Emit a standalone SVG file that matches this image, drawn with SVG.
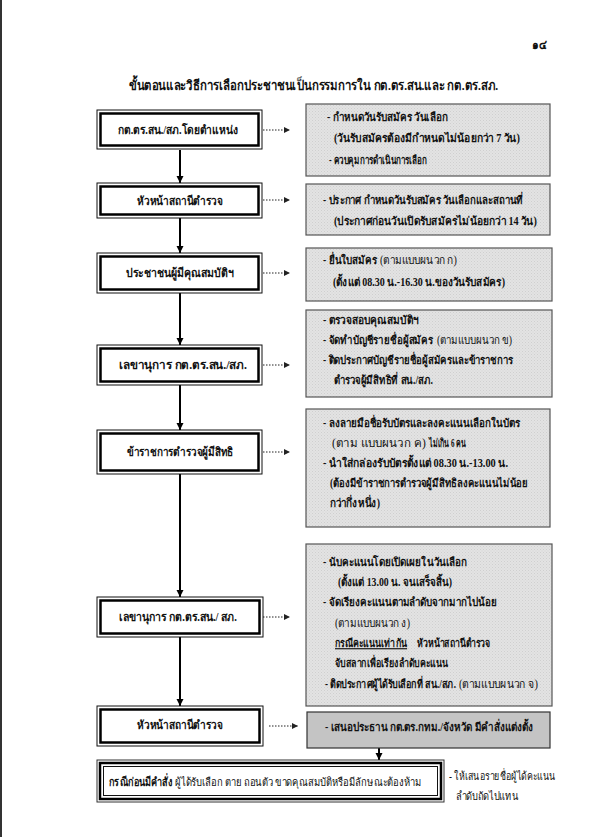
<svg xmlns="http://www.w3.org/2000/svg" width="596" height="837" viewBox="0 0 596 837">
<defs>
<pattern id="hatch" width="3" height="3" patternUnits="userSpaceOnUse">
<rect width="3" height="3" fill="#e3e3e3"/>
<rect x="0" y="0" width="1" height="1" fill="#cfcfcf"/>
<rect x="1.5" y="1.5" width="1" height="1" fill="#d4d4d4"/>
</pattern>
<marker id="ah" markerWidth="8" markerHeight="8" refX="7" refY="4" orient="auto" markerUnits="userSpaceOnUse">
<path d="M0,0.5 L7,4 L0,7.5 Z" fill="#000"/>
</marker>
<marker id="ahs" markerWidth="7" markerHeight="7" refX="6" refY="3.5" orient="auto" markerUnits="userSpaceOnUse">
<path d="M0,0.5 L6,3.5 L0,6.5 Z" fill="#222"/>
</marker>
</defs>
<style>
text{font-family:"Liberation Serif","DejaVu Sans",serif;fill:#111;}
.t{font-size:13.5px;font-weight:bold;}
.n{font-size:12px;font-weight:bold;text-anchor:middle;}
.r{font-size:11.5px;font-weight:bold;}
.p{font-weight:normal;}
.outer{fill:#fff;stroke:#111;stroke-width:1;}
.inner{fill:#fff;stroke:#000;stroke-width:2.5;}
.grey{fill:url(#hatch);stroke:#555;stroke-width:1.2;}
.dark{fill:#c4c4c4;stroke:#333;stroke-width:1.2;}
.conn{stroke:#000;stroke-width:2;fill:none;marker-end:url(#ah);}
.dot{stroke:#222;stroke-width:1;stroke-dasharray:1.5,1.5;fill:none;marker-end:url(#ahs);}
</style>
<rect x="0" y="0" width="596" height="837" fill="#fff"/>
<rect x="0" y="0" width="2" height="837" fill="#333"/>
<text x="532" y="49" class="t" style="font-size:12px" textLength="15" lengthAdjust="spacingAndGlyphs">๑๔</text>
<text x="129" y="90" class="t" textLength="369" lengthAdjust="spacingAndGlyphs">ขั้นตอนและวิธีการเลือกประชาชนเป็นกรรมการใน กต.ตร.สน.และ กต.ตร.สภ.</text>

<g id="connectors">
<line class="conn" x1="180" y1="150" x2="180" y2="183"/>
<line class="conn" x1="180" y1="218" x2="180" y2="253"/>
<line class="conn" x1="180" y1="293" x2="180" y2="345"/>
<line class="conn" x1="180" y1="385" x2="180" y2="430"/>
<line class="conn" x1="180" y1="474" x2="180" y2="597"/>
<line class="conn" x1="180" y1="637" x2="180" y2="706"/>
<line class="conn" x1="379" y1="748" x2="379" y2="760"/>
<line class="dot" x1="263" y1="130" x2="290" y2="130"/>
<line class="dot" x1="263" y1="200" x2="290" y2="200"/>
<line class="dot" x1="263" y1="273" x2="290" y2="273"/>
<line class="dot" x1="263" y1="365" x2="290" y2="365"/>
<line class="dot" x1="263" y1="452" x2="290" y2="452"/>
<line class="dot" x1="263" y1="617" x2="290" y2="617"/>
<line class="dot" x1="269" y1="726" x2="298" y2="726"/>
</g>

<g id="n1"><rect class="outer" x="97" y="110" width="165" height="39"/><rect class="inner" x="100.5" y="113.5" width="158" height="32"/><text class="n" x="178" y="134" textLength="120" lengthAdjust="spacingAndGlyphs">กต.ตร.สน./สภ.โดยตำแหน่ง</text></g>
<g id="n2"><rect class="outer" x="97" y="183" width="165" height="35"/><rect class="inner" x="100.5" y="186.5" width="158" height="28"/><text class="n" x="180" y="205" textLength="86" lengthAdjust="spacingAndGlyphs">หัวหน้าสถานีตำรวจ</text></g>
<g id="n3"><rect class="outer" x="97" y="253" width="165" height="40"/><rect class="inner" x="100.5" y="256.5" width="158" height="33"/><text class="n" x="180" y="277" textLength="108" lengthAdjust="spacingAndGlyphs">ประชาชนผู้มีคุณสมบัติฯ</text></g>
<g id="n4"><rect class="outer" x="97" y="345" width="165" height="40"/><rect class="inner" x="100.5" y="348.5" width="158" height="33"/><text class="n" x="183" y="369" textLength="128" lengthAdjust="spacingAndGlyphs">เลขานุการ กต.ตร.สน./สภ.</text></g>
<g id="n5"><rect class="outer" x="97" y="430" width="165" height="44"/><rect class="inner" x="100.5" y="433.5" width="158" height="37"/><text class="n" x="180" y="456" textLength="106" lengthAdjust="spacingAndGlyphs">ข้าราชการตำรวจผู้มีสิทธิ</text></g>
<g id="n6"><rect class="outer" x="97" y="597" width="166" height="40"/><rect class="inner" x="100.5" y="600.5" width="159" height="33"/><text class="n" x="178" y="621" textLength="118" lengthAdjust="spacingAndGlyphs">เลขานุการ กต.ตร.สน./ สภ.</text></g>
<g id="n7"><rect class="outer" x="97" y="706" width="166" height="40"/><rect class="inner" x="100.5" y="709.5" width="159" height="33"/><text class="n" x="180" y="729" textLength="86" lengthAdjust="spacingAndGlyphs">หัวหน้าสถานีตำรวจ</text></g>
<g id="n8"><rect x="97" y="760" width="347" height="42" fill="#fff" stroke="#333" stroke-width="1"/><rect x="100" y="763" width="341" height="36" fill="#fff" stroke="#000" stroke-width="2.5"/><rect x="103.5" y="766.5" width="334" height="29" fill="#fff" stroke="#111" stroke-width="1"/>
<text class="r" transform="translate(109,786) scale(0.7,1)" x="0" y="0" style="font-size:12px" textLength="90" lengthAdjust="spacingAndGlyphs">กรณีก่อนมีคำสั่ง</text>
<text class="r p" x="175" y="786" style="font-size:11.5px" textLength="247" lengthAdjust="spacingAndGlyphs">ผู้ได้รับเลือก  ตาย  ถอนตัว  ขาดคุณสมบัติหรือมีลักษณะต้องห้าม</text></g>
<g id="note8"><text class="r p" x="449" y="780" textLength="106" lengthAdjust="spacingAndGlyphs">- ให้เสนอรายชื่อผู้ได้คะแนน</text><text class="r p" x="456" y="800" textLength="62" lengthAdjust="spacingAndGlyphs">ลำดับถัดไปแทน</text></g>

<g id="r1"><rect class="grey" x="306" y="104" width="244" height="72"/>
<text class="r" x="327" y="121" textLength="121" lengthAdjust="spacingAndGlyphs">-  กำหนดวันรับสมัคร วันเลือก</text>
<text class="r" x="334" y="142" textLength="186" lengthAdjust="spacingAndGlyphs">(วันรับสมัครต้องมีกำหนดไม่น้อยกว่า 7 วัน)</text>
<text class="r" x="329" y="164" textLength="98" lengthAdjust="spacingAndGlyphs">-  ควบคุมการดำเนินการเลือก</text></g>
<g id="r2"><rect class="grey" x="306" y="184" width="244" height="51"/>
<text class="r" x="323" y="204" textLength="200" lengthAdjust="spacingAndGlyphs">-  ประกาศ กำหนดวันรับสมัคร วันเลือกและสถานที่</text>
<text class="r" x="334" y="225" textLength="203" lengthAdjust="spacingAndGlyphs">(ประกาศก่อนวันเปิดรับสมัครไม่น้อยกว่า 14 วัน)</text></g>
<g id="r3"><rect class="grey" x="306" y="248" width="246" height="53"/>
<text class="r" transform="translate(323,264) scale(0.7,1)" x="0" y="0" textLength="77" lengthAdjust="spacingAndGlyphs">-  ยื่นใบสมัคร</text>
<text class="r p" x="380" y="264" textLength="77" lengthAdjust="spacingAndGlyphs">(ตามแบบผนวก ก)</text>
<text class="r" x="333" y="286" textLength="172" lengthAdjust="spacingAndGlyphs">(ตั้งแต่ 08.30 น.-16.30 น.ของวันรับสมัคร)</text></g>
<g id="r4"><rect class="grey" x="306" y="310" width="246" height="87"/>
<text class="r" x="323" y="324" textLength="95" lengthAdjust="spacingAndGlyphs">-  ตรวจสอบคุณสมบัติฯ</text>
<text class="r" transform="translate(323,344) scale(0.7,1)" x="0" y="0" textLength="157" lengthAdjust="spacingAndGlyphs">-  จัดทำบัญชีรายชื่อผู้สมัคร</text>
<text class="r p" x="437" y="344" textLength="75" lengthAdjust="spacingAndGlyphs">(ตามแบบผนวก ข)</text>
<text class="r" x="323" y="364" textLength="190" lengthAdjust="spacingAndGlyphs">-  ติดประกาศบัญชีรายชื่อผู้สมัครและข้าราชการ</text>
<text class="r" x="334" y="384" textLength="99" lengthAdjust="spacingAndGlyphs">ตำรวจผู้มีสิทธิที่ สน./สภ.</text></g>
<g id="r5"><rect class="grey" x="306" y="409" width="244" height="118"/>
<text class="r" x="323" y="427" textLength="197" lengthAdjust="spacingAndGlyphs">-  ลงลายมือชื่อรับบัตรและลงคะแนนเลือกในบัตร</text>
<text class="r p" transform="translate(332,447) scale(0.7,1)" x="0" y="0" textLength="134" lengthAdjust="spacingAndGlyphs">(ตาม แบบผนวก ค)</text>
<text class="r" x="429" y="447" textLength="37" lengthAdjust="spacingAndGlyphs">ไม่เกิน 6  คน</text>
<text class="r" x="323" y="467" textLength="185" lengthAdjust="spacingAndGlyphs">-  นำใส่กล่องรับบัตรตั้งแต่ 08.30 น.-13.00 น.</text>
<text class="r" x="330" y="487" textLength="198" lengthAdjust="spacingAndGlyphs">(ต้องมีข้าราชการตำรวจผู้มีสิทธิลงคะแนนไม่น้อย</text>
<text class="r" x="330" y="507" textLength="50" lengthAdjust="spacingAndGlyphs">กว่ากึ่งหนึ่ง)</text></g>
<g id="r6"><rect class="grey" x="306" y="544" width="246" height="162"/>
<text class="r" x="323" y="566" textLength="144" lengthAdjust="spacingAndGlyphs">-   นับคะแนนโดยเปิดเผยในวันเลือก</text>
<text class="r" x="338" y="586" textLength="114" lengthAdjust="spacingAndGlyphs">(ตั้งแต่ 13.00 น. จนเสร็จสิ้น)</text>
<text class="r" x="323" y="606" textLength="174" lengthAdjust="spacingAndGlyphs">-   จัดเรียงคะแนนตามลำดับจากมากไปน้อย</text>
<text class="r p" x="335" y="627" textLength="75" lengthAdjust="spacingAndGlyphs">(ตามแบบผนวก ง)</text>
<text class="r" transform="translate(335,647) scale(0.7,1)" x="0" y="0" text-decoration="underline" textLength="103" lengthAdjust="spacingAndGlyphs">กรณีคะแนนเท่ากัน</text>
<text class="r" x="417" y="647" textLength="73" lengthAdjust="spacingAndGlyphs">หัวหน้าสถานีตำรวจ</text>
<text class="r" x="335" y="667" textLength="113" lengthAdjust="spacingAndGlyphs">จับสลากเพื่อเรียงลำดับคะแนน</text>
<text class="r" transform="translate(325,688) scale(0.7,1)" x="0" y="0" textLength="187" lengthAdjust="spacingAndGlyphs">-  ติดประกาศผู้ได้รับเลือกที่ สน./สภ.</text>
<text class="r p" x="459" y="688" textLength="79" lengthAdjust="spacingAndGlyphs">(ตามแบบผนวก จ)</text></g>
<g id="r7"><rect class="dark" x="307" y="712" width="243" height="36"/>
<text class="r" x="325" y="731" textLength="208" lengthAdjust="spacingAndGlyphs">-  เสนอประธาน กต.ตร.กทม./จังหวัด มีคำสั่งแต่งตั้ง</text></g>
</svg>
